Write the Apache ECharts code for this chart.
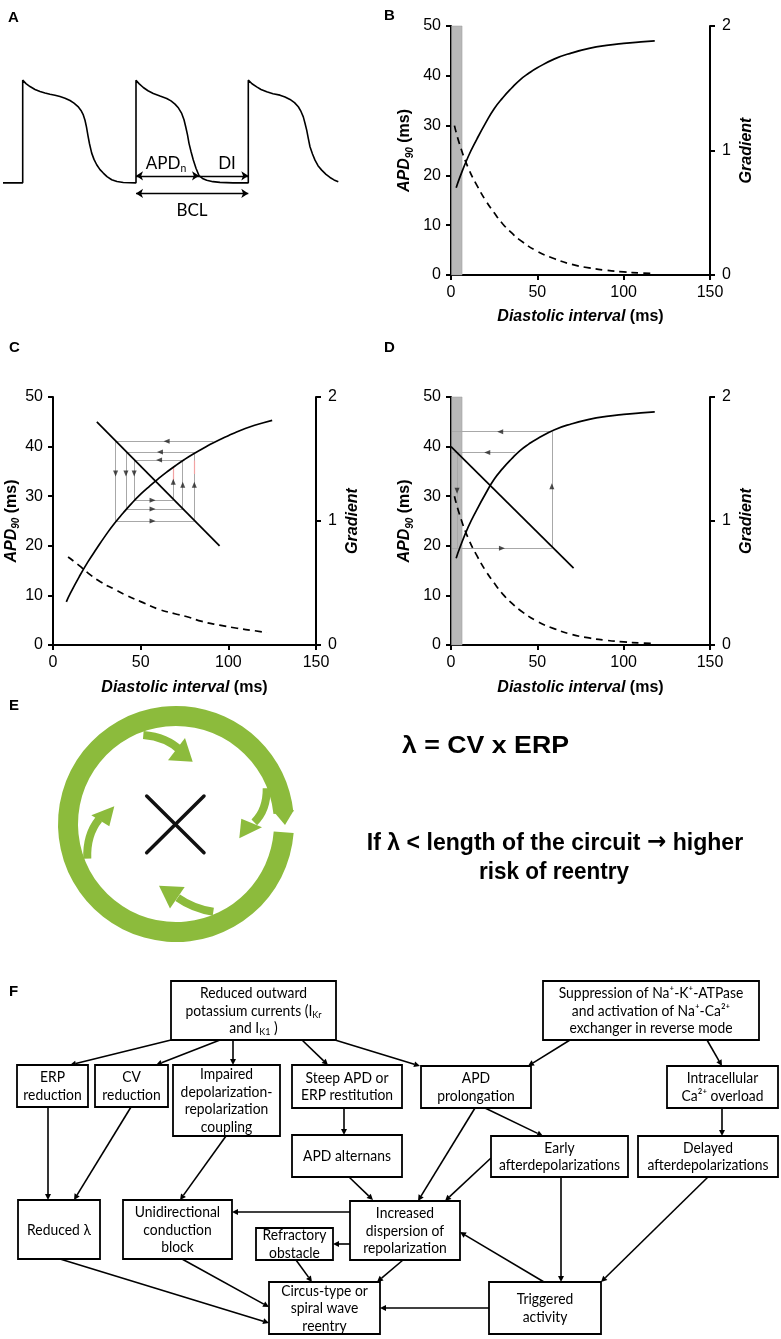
<!DOCTYPE html>
<html><head><meta charset="utf-8">
<script src="https://cdn.jsdelivr.net/npm/echarts@6/dist/echarts.min.js"></script>
<style>html,body{margin:0;padding:0;background:#fff}#c{width:781px;height:1339px}</style>
</head><body><div id="c"></div>
<script>
// ================= DATA =================
// Panel A: membrane potential trace (time ms, voltage mV)
const apTrace = [
 [3,-85],[22.7,-85],[22.7,20],
 [26,16.5],[30,13.5],[35,10.5],[40,8.4],[45,6.8],[50,5.6],[55,4.5],[60,3.3],[65,1.6],[70,-0.8],[74,-3.5],[78,-7],[81,-11],[83.3,-15.5],[85,-21],[86.5,-28],[88,-37],[89.5,-45],[91.7,-54.6],[94,-61],[96.7,-66.5],[100,-71.5],[103.3,-75],[107,-78.7],[111.7,-81.8],[117,-83.7],[123.3,-84.6],[136,-85],
 [136,20],[139,16.5],[143.3,12.5],[148,9.2],[153.3,6.4],[160,3.8],[166.7,1.3],[171,-1.2],[175,-4.5],[178.5,-8.5],[181.7,-14],[184,-20.5],[185.7,-27.6],[187.5,-36],[189,-44.6],[191,-53],[193.3,-61.6],[196,-70],[199,-77.6],[202.5,-80.5],[206.7,-82.3],[213,-83.8],[220,-84.5],[233,-85],[248.3,-85],
 [248.3,20],[252,16.3],[256.7,13.2],[261,10.5],[266.7,8.1],[273,6.2],[280,4.7],[285,2.8],[290,0.3],[294.5,-3],[298.3,-7.2],[301,-12],[303.3,-17.5],[305,-24],[306.7,-31.1],[308.4,-40],[310,-48.1],[312.5,-55.5],[315,-61.8],[318,-67.5],[321.7,-72],[326,-76.3],[330,-79.5],[334,-82],[338.3,-83.9]
];
const apdnArrow = [[136,-77.8],[199,-77.8]];
const diArrow   = [[199,-77.8],[248.3,-77.8]];
const bclArrow  = [[136,-95.8],[248.3,-95.8]];
const aLabels = ['{a|APD}{s|n}', 'DI', 'BCL'];

// Panels B & D: APD90 restitution (DI ms, APD90 ms) and gradient
const restBD = [[3,17.5],[5,19.5],[10,23.8],[15,27.3],[20,30.5],[25,33.4],[30,35.6],[35,37.5],[40,39.2],[45,40.5],[50,41.6],[60,43.4],[70,44.6],[80,45.5],[90,46.1],[100,46.5],[110,46.8],[118,47]];
const gradBD = [[2,1.2],[5,1.05],[10,0.86],[15,0.72],[20,0.6],[25,0.5],[30,0.41],[35,0.34],[40,0.28],[50,0.19],[60,0.13],[70,0.085],[80,0.057],[90,0.038],[100,0.025],[110,0.016],[118,0.012]];
const refractoryBand = [0.3, 6.4];

// Panel C
const restC = [[7.6,8.7],[10,10.5],[15,13.8],[20,16.8],[25,19.5],[30,22.1],[35,24.5],[40,26.6],[45,28.6],[50,30.4],[55,32],[60,33.5],[65,34.9],[70,36.2],[75,37.4],[80,38.5],[85,39.5],[90,40.5],[95,41.4],[100,42.2],[105,43],[110,43.7],[115,44.3],[120,44.8],[125,45.3]];
const gradC = [[8.6,0.71],[15,0.64],[20,0.58],[27,0.51],[35,0.45],[42,0.40],[50,0.35],[60,0.29],[70,0.25],[76,0.23],[85,0.19],[95,0.16],[105,0.135],[115,0.115],[122,0.10]];
const bclLineC = [[25,45],[95,20]];
const cobwebC = [
 [[35.7,41.1],[91.5,41.1]],[[35.7,41.1],[35.7,25.0]],[[35.7,25.0],[80.6,25.0]],[[80.6,25.0],[80.6,38.9]],
 [[41.6,38.9],[80.6,38.9]],[[41.6,38.9],[41.6,27.4]],[[41.6,27.4],[74.0,27.4]],[[74.0,27.4],[74.0,37.3]],
 [[46.3,37.3],[74.0,37.3]],[[46.3,37.3],[46.3,29.2]],[[46.3,29.2],[68.6,29.2]],[[68.6,29.2],[68.6,35.9]]
];
const cobwebCRed = [[[68.6,35.9],[68.6,33.2]],[[80.6,37.2],[80.6,34.5]]];
const arrowsC = {
 left: [[64.8,41.1],[61,38.9],[60.5,37.3]],
 right:[[56.8,25.0],[56.8,27.4],[56.8,29.2]],
 down: [[35.7,34.6],[41.6,34.6],[46.3,34.6]],
 up:   [[68.6,32.9],[74.0,32.3],[80.6,32.3]]
};

// Panel D
const bclLineD = [[0,40],[71,15.5]];
const cobwebD = [
 [[0.6,43.0],[58.4,43.0]],[[0.6,38.8],[37.2,38.8]],[[58.4,19.5],[58.4,43.0]],[[0.6,19.5],[58.4,19.5]],[[3.5,38.8],[3.5,19.5]]
];
const arrowsD = { left:[[28.5,43.0],[21,38.8]], right:[[29.5,19.5]], up:[[58.4,32]], down:[[3.5,31.1]] };

// Axis names / panel text
const xName = '{i|Diastolic interval} {b|(ms)}';
const yLeftName = '{i|APD}{s|90}{b| (ms)}';
const yRightName = '{i|Gradient}';
const panelLetters = ['A','B','C','D','E','F'];
const eTexts = ['λ = CV x ERP', 'If λ < length of the circuit {ar|→} higher', 'risk of reentry'];
const eTextsPlain = ['λ = CV x ERP', 'If λ < length of the circuit → higher', 'risk of reentry'];

// Panel F flowchart labels
const flowLabels = [
 'Reduced outward\npotassium currents (I{sub|Kr}\nand I{sub|K1} )',
 'Suppression of Na⁺-K⁺-ATPase\nand activation of Na⁺-Ca²⁺\nexchanger in reverse mode',
 'ERP\nreduction',
 'CV\nreduction',
 'Impaired\ndepolarization-\nrepolarization\ncoupling',
 'Steep APD or\nERP restitution',
 'APD\nprolongation',
 'Intracellular\nCa²⁺ overload',
 'APD alternans',
 'Early\nafterdepolarizations',
 'Delayed\nafterdepolarizations',
 'Reduced λ',
 'Unidirectional\nconduction\nblock',
 'Refractory\nobstacle',
 'Increased\ndispersion of\nrepolarization',
 'Circus-type or\nspiral wave\nreentry',
 'Triggered\nactivity'
];

// ================= LAYOUT (positions / sizes) =================
const panelLetterPos = [[8,18],[384,16],[9,348],[384,348],[9,706],[9,992]];
const flowBoxLayout = [
 [171,981,165,59],[543,981,216,59],[17,1065,71,42],[95,1065,73,42],[173,1065,107,71],[292,1065,110,43],
 [421,1066,110,42],[667,1066,111,42],[292,1135,110,42],[491,1136,137,41],[638,1136,140,41],
 [18,1200,82,59],[123,1200,109,59],[256,1228,77,32],[350,1201,110,59],[269,1282,111,52],[489,1282,112,52]
];
const flowEdgeLayout = [
 [171,1040,70,1065],[220,1040,156,1065],[233,1040,233,1065],[302,1040,328,1065],[335,1040,420,1066],
 [570,1040,528,1066],[707,1040,722,1066],[722,1108,722,1136],[475,1108,418,1201],[485,1108,543,1136],
 [491,1158,445,1201],[561,1177,561,1282],[708,1177,601,1282],[544,1282,460,1232],[489,1308,380,1308],
 [350,1212,232,1212],[350,1244,333,1244],[403,1260,377,1282],[296,1260,312,1282],[182,1259,269,1307],
 [60,1259,269,1323],[48,1107,48,1200],[131,1107,74,1200],[226,1136,180,1200],[344,1108,344,1135],[349,1177,373,1200]
];
const aLabelPos = [[166,163],[227,163],[192,210]];
const eTextLayout = [[485.5,746,167],[555,843,380],[554,872,150]];

// ================= BUILD =================
const FONT = '"Liberation Sans", Arial, sans-serif';
const FLOWFONT = 'Lato, "Noto Sans", sans-serif';
const GREEN = '#8cbb3c';
function textWidth(str, font){const c=document.createElement('canvas').getContext('2d');c.font=font;return c.measureText(str).width;}

const nameRich = {
 i:{fontStyle:'italic',fontWeight:'bold',fontSize:16,fontFamily:FONT,color:'#000',lineHeight:20},
 s:{fontStyle:'italic',fontWeight:'bold',fontSize:10,fontFamily:FONT,color:'#000',lineHeight:8,verticalAlign:'bottom'},
 b:{fontWeight:'bold',fontSize:16,fontFamily:FONT,color:'#000',lineHeight:20}
};
const axLine = {show:true,onZero:false,lineStyle:{color:'#000',width:2}};
const axTick = {show:true,length:5,lineStyle:{color:'#000',width:2}};
const axLabel = {color:'#000',fontSize:16,fontFamily:FONT,margin:10};

function xAx(g, gap){return {gridIndex:g,type:'value',min:0,max:150,interval:50,axisLine:axLine,axisTick:axTick,axisLabel:axLabel,splitLine:{show:false},
 name:xName,nameLocation:'middle',nameGap:gap,nameTextStyle:{fontSize:16,fontWeight:'bold',fontFamily:FONT,color:'#000',rich:nameRich}};}
function yL(g, gap){return {gridIndex:g,type:'value',position:'left',min:0,max:50,interval:10,axisLine:axLine,axisTick:axTick,axisLabel:axLabel,splitLine:{show:false},
 name:yLeftName,nameLocation:'middle',nameRotate:90,nameGap:gap,nameTextStyle:{fontSize:16,fontWeight:'bold',fontFamily:FONT,color:'#000',rich:nameRich}};}
function yR(g, gap){return {gridIndex:g,type:'value',position:'right',min:0,max:2,interval:1,axisLine:axLine,axisTick:axTick,axisLabel:Object.assign({},axLabel,{margin:12}),splitLine:{show:false},
 name:yRightName,nameLocation:'middle',nameRotate:90,nameGap:gap,nameTextStyle:{fontSize:16,fontWeight:'bold',fontFamily:FONT,color:'#000',rich:nameRich}};}

function solid(data,xi,yi,extra){return Object.assign({type:'line',xAxisIndex:xi,yAxisIndex:yi,data:data,smooth:true,showSymbol:false,symbol:'none',silent:true,lineStyle:{color:'#000',width:1.7},z:5},extra||{});}
function dashed(data,xi,yi){return {type:'line',xAxisIndex:xi,yAxisIndex:yi,data:data,smooth:true,showSymbol:false,symbol:'none',silent:true,lineStyle:{color:'#000',width:1.7,type:[7,5]},z:5};}
function segs(list,xi,yi,color,w){return {type:'lines',coordinateSystem:'cartesian2d',xAxisIndex:xi,yAxisIndex:yi,symbol:['none','none'],silent:true,lineStyle:{color:color,width:w,opacity:1},data:list.map(c=>({coords:c})),z:3};}
function arrows(pts,rot,xi,yi){return {type:'scatter',xAxisIndex:xi,yAxisIndex:yi,data:pts,symbol:'triangle',symbolSize:[5,6],symbolRotate:rot,silent:true,itemStyle:{color:'#222'},z:6};}
function arrowSet(a,xi,yi){const out=[];if(a.left)out.push(arrows(a.left,90,xi,yi));if(a.right)out.push(arrows(a.right,-90,xi,yi));if(a.up)out.push(arrows(a.up,0,xi,yi));if(a.down)out.push(arrows(a.down,180,xi,yi));return out;}
function band(){return {silent:true,itemStyle:{color:'#b8b8b8',borderColor:'#9a9a9a',borderWidth:0.5},data:[[{xAxis:refractoryBand[0],yAxis:0},{xAxis:refractoryBand[1],yAxis:50}]]};}

const series = [
 {type:'line',xAxisIndex:0,yAxisIndex:0,data:apTrace,showSymbol:false,symbol:'none',silent:true,lineStyle:{color:'#000',width:1.6}},
 {type:'lines',coordinateSystem:'cartesian2d',xAxisIndex:0,yAxisIndex:0,symbol:['arrow','arrow'],symbolSize:7,silent:true,lineStyle:{color:'#000',width:1.3,opacity:1},data:[{coords:apdnArrow},{coords:bclArrow}]},
 {type:'lines',coordinateSystem:'cartesian2d',xAxisIndex:0,yAxisIndex:0,symbol:['none','arrow'],symbolSize:7,silent:true,lineStyle:{color:'#000',width:1.3,opacity:1},data:[{coords:diArrow}]},
 // B
 solid(restBD,1,1,{markArea:band()}),
 dashed(gradBD,1,2),
 // C
 segs(cobwebC,2,3,'#a8a8a8',1),
 segs(cobwebCRed,2,3,'#f3a3a3',1.2),
 ...arrowSet(arrowsC,2,3),
 solid(restC,2,3),
 dashed(gradC,2,4),
 solid(bclLineC,2,3,{smooth:false}),
 // D
 solid(restBD,3,5,{markArea:band()}),
 dashed(gradBD,3,6),
 segs(cobwebD,3,5,'#a8a8a8',1),
 ...arrowSet(arrowsD,3,5),
 solid(bclLineD,3,5,{smooth:false})
];

// ---- graphics ----
const g = [];
panelLetters.forEach((t,i)=>g.push({type:'text',x:panelLetterPos[i][0],y:panelLetterPos[i][1],style:{text:t,fontFamily:FONT,fontWeight:'bold',fontSize:15,fill:'#000',align:'left',verticalAlign:'middle'}}));

// panel A labels
const sFlow = 121/textWidth('afterdepolarizations','14.7px Lato');
aLabels.forEach((t,i)=>g.push({type:'text',x:aLabelPos[i][0],y:aLabelPos[i][1],scaleX:sFlow,style:{text:t,x:0,y:0,fontFamily:FLOWFONT,fontSize:18,fill:'#000',align:'center',verticalAlign:'middle',
 rich:{a:{fontFamily:FLOWFONT,fontSize:18,lineHeight:22},s:{fontFamily:FLOWFONT,fontSize:11,lineHeight:10,verticalAlign:'bottom'}}}}));

// panel E ring & arrows
g.push({type:'sector',shape:{cx:176,cy:824,r0:98,r:118,startAngle:0.077,endAngle:6.18,clockwise:true},style:{fill:GREEN}});
g.push({type:'polygon',shape:{points:[[294,810],[285,825],[274,812]]},style:{fill:GREEN}});
const inner = [
 {c:[143.3,735,166.7,737,180.7,750.7], h:[[192.7,761.7],[168,760.3],[185,738]]},
 {c:[266.7,788.3,267,810,254.3,822.3], h:[[239.3,838.3],[241.3,818.7],[262,827.3]]},
 {c:[213.3,911.7,193.3,908.7,177.7,897.7], h:[[159,885.7],[184.7,887],[170,908.5]]},
 {c:[87.3,858.7,86.3,835,99,819.3], h:[[114.3,806.3],[91.3,815.3],[109.3,826.3]]}
];
inner.forEach(a=>{
 g.push({type:'bezierCurve',shape:{x1:a.c[0],y1:a.c[1],cpx1:a.c[2],cpy1:a.c[3],x2:a.c[4],y2:a.c[5]},style:{stroke:GREEN,lineWidth:8,fill:null}});
 g.push({type:'polygon',shape:{points:a.h},style:{fill:GREEN}});
});
g.push({type:'line',shape:{x1:146.7,y1:796,x2:204,y2:852.7},style:{stroke:'#111',lineWidth:3.5,lineCap:'round'}});
g.push({type:'line',shape:{x1:204,y1:796,x2:146.7,y2:852.7},style:{stroke:'#111',lineWidth:3.5,lineCap:'round'}});
eTexts.forEach((t,i)=>{
 const L=eTextLayout[i]; const s=L[2]/textWidth(eTextsPlain[i],'bold 24px "Liberation Sans"');
 g.push({type:'text',x:L[0],y:L[1],scaleX:s,style:{text:t,x:0,y:0,fontFamily:FONT,fontWeight:'bold',fontSize:24,fill:'#000',align:'center',verticalAlign:'middle',
  rich:{ar:{fontFamily:'"DejaVu Sans", sans-serif',fontWeight:'bold',fontSize:24,fill:'#000'}}}});
});

// panel F flowchart
flowEdgeLayout.forEach(e=>{
 const [x1,y1,x2,y2]=e; const ang=Math.atan2(y2-y1,x2-x1); const L=6,W=3;
 const bx=x2-L*Math.cos(ang), by=y2-L*Math.sin(ang);
 g.push({type:'line',shape:{x1:x1,y1:y1,x2:bx,y2:by},style:{stroke:'#000',lineWidth:1.6}});
 g.push({type:'polygon',shape:{points:[[x2,y2],[bx+W*Math.sin(ang),by-W*Math.cos(ang)],[bx-W*Math.sin(ang),by+W*Math.cos(ang)]]},style:{fill:'#000'}});
});
flowLabels.forEach((t,i)=>{
 const [x,y,w,h]=flowBoxLayout[i];
 g.push({type:'rect',shape:{x:x,y:y,width:w,height:h},style:{fill:'#fff',stroke:'#000',lineWidth:1.8},z:10});
 g.push({type:'text',x:x+w/2,y:y+h/2+0.5,scaleX:sFlow,z:11,style:{text:t,x:0,y:0,fontFamily:FLOWFONT,fontSize:14.7,lineHeight:17.5,fill:'#000',align:'center',verticalAlign:'middle',
  rich:{sub:{fontFamily:FLOWFONT,fontSize:9.5,lineHeight:9,verticalAlign:'bottom',fill:'#000'}}}});
});

const option = {
 animation:false,
 backgroundColor:'#fff',
 grid:[
  {left:0,top:0,width:390,height:220},
  {left:451,top:26,width:259,height:249},
  {left:53,top:397,width:263,height:248},
  {left:451,top:397,width:259,height:248}
 ],
 xAxis:[
  {gridIndex:0,type:'value',min:0,max:390,show:false},
  xAx(1,32), xAx(2,33), xAx(3,33)
 ],
 yAxis:[
  {gridIndex:0,type:'value',min:-123,max:102,show:false},
  yL(1,36), yR(1,27),
  yL(2,29), yR(2,27),
  yL(3,36), yR(3,27)
 ],
 series:series,
 graphic:{elements:g}
};
const chart = echarts.init(document.getElementById('c'),null,{renderer:'canvas'});
chart.setOption(option);
</script></body></html>
